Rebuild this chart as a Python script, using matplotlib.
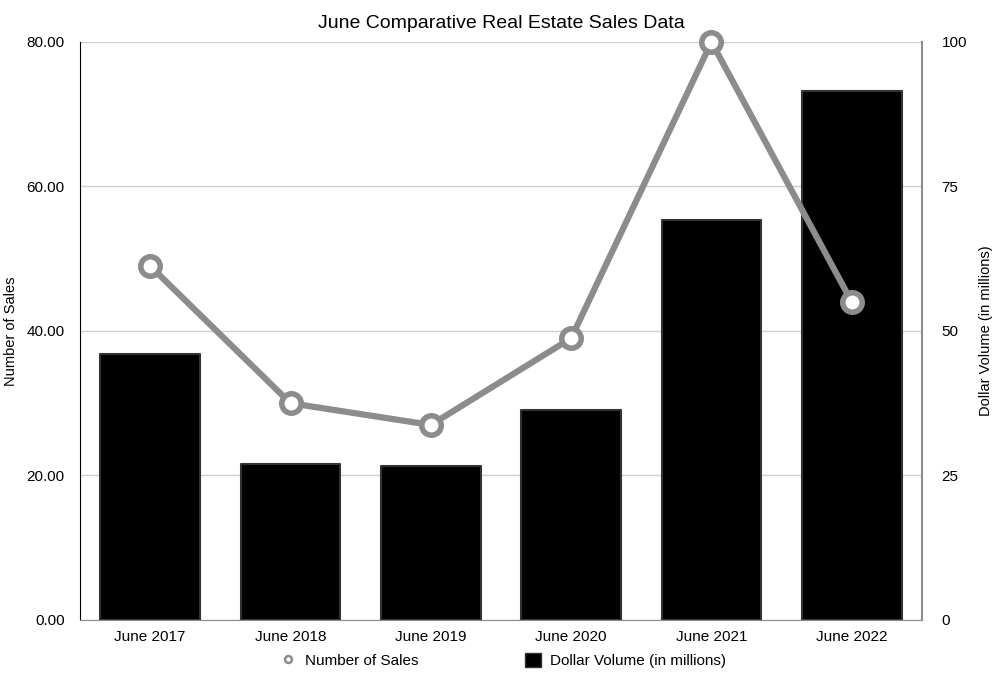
import matplotlib
matplotlib.use("Agg")
import matplotlib.pyplot as plt
from matplotlib.lines import Line2D
from matplotlib.patches import Patch

plt.rcParams['font.family'] = ['Liberation Sans', 'DejaVu Sans']

categories = ["June 2017", "June 2018", "June 2019", "June 2020", "June 2021", "June 2022"]
number_of_sales = [49, 30, 27, 39, 80, 44]
dollar_volume = [46.0, 27.0, 26.6, 36.3, 69.2, 91.5]

GRAY = '#8c8c8c'

fig = plt.figure(figsize=(10, 6.77), dpi=100)
ax = fig.add_axes([0.08, 0.0842, 0.842, 0.8538])
ax2 = ax.twinx()

x = list(range(len(categories)))

# bars on the right axis
ax2.bar(x, dollar_volume, width=0.71, color='black', edgecolor='#333333',
        linewidth=1.5, joinstyle='round', zorder=2)
ax2.set_ylim(0, 100)
ax2.set_yticks([0, 25, 50, 75, 100])
ax2.grid(axis='y', color='#d0d0d0', linewidth=1, zorder=0)
ax2.set_axisbelow(True)
ax2.set_ylabel('Dollar Volume (in millions)', fontsize=10.5)
ax2.yaxis.set_label_coords(1.0677, 0.5)

# line on the left axis, drawn above bars
ax.set_zorder(ax2.get_zorder() + 1)
ax.patch.set_visible(False)
ax.plot(x, number_of_sales, color=GRAY, linewidth=4.5, marker='o',
        markersize=14, markerfacecolor='white', markeredgecolor=GRAY,
        markeredgewidth=4, clip_on=False, zorder=5)
ax.set_ylim(0, 80)
ax.set_yticks([0, 20, 40, 60, 80])
ax.set_yticklabels([f"{v:.2f}" for v in [0, 20, 40, 60, 80]])
ax.set_xlim(-0.5, len(categories) - 0.5)
ax.set_xticks(x)
ax.set_xticklabels(categories)
ax.set_ylabel('Number of Sales', fontsize=10.5)
ax.yaxis.set_label_coords(-0.0736, 0.5)

for a in (ax, ax2):
    a.tick_params(length=0, labelsize=11)
    a.spines['top'].set_visible(False)
ax.tick_params(axis='y', pad=11)
ax2.tick_params(axis='y', pad=14)
ax.tick_params(axis='x', pad=7)
ax.spines['left'].set_color('black')
ax.spines['right'].set_visible(False)
ax.spines['bottom'].set_color(GRAY)
ax2.spines['left'].set_visible(False)
ax2.spines['bottom'].set_visible(False)
ax2.spines['right'].set_color(GRAY)
ax2.spines['right'].set_linewidth(1.5)

ax.set_title('June Comparative Real Estate Sales Data', fontsize=14, pad=10)

handles = [
    Line2D([], [], color=GRAY, marker='o', linestyle='none', markersize=5,
           markerfacecolor='white', markeredgewidth=1.8),
    Patch(facecolor='black', edgecolor='#333333'),
]
fig.legend(handles, ['Number of Sales', 'Dollar Volume (in millions)'],
           loc='center', bbox_to_anchor=(0.503, 0.024), ncol=2, frameon=False,
           fontsize=11, columnspacing=7, handlelength=1.0, handleheight=1.0,
           handletextpad=0.6)

fig.savefig('out.png', dpi=100)
